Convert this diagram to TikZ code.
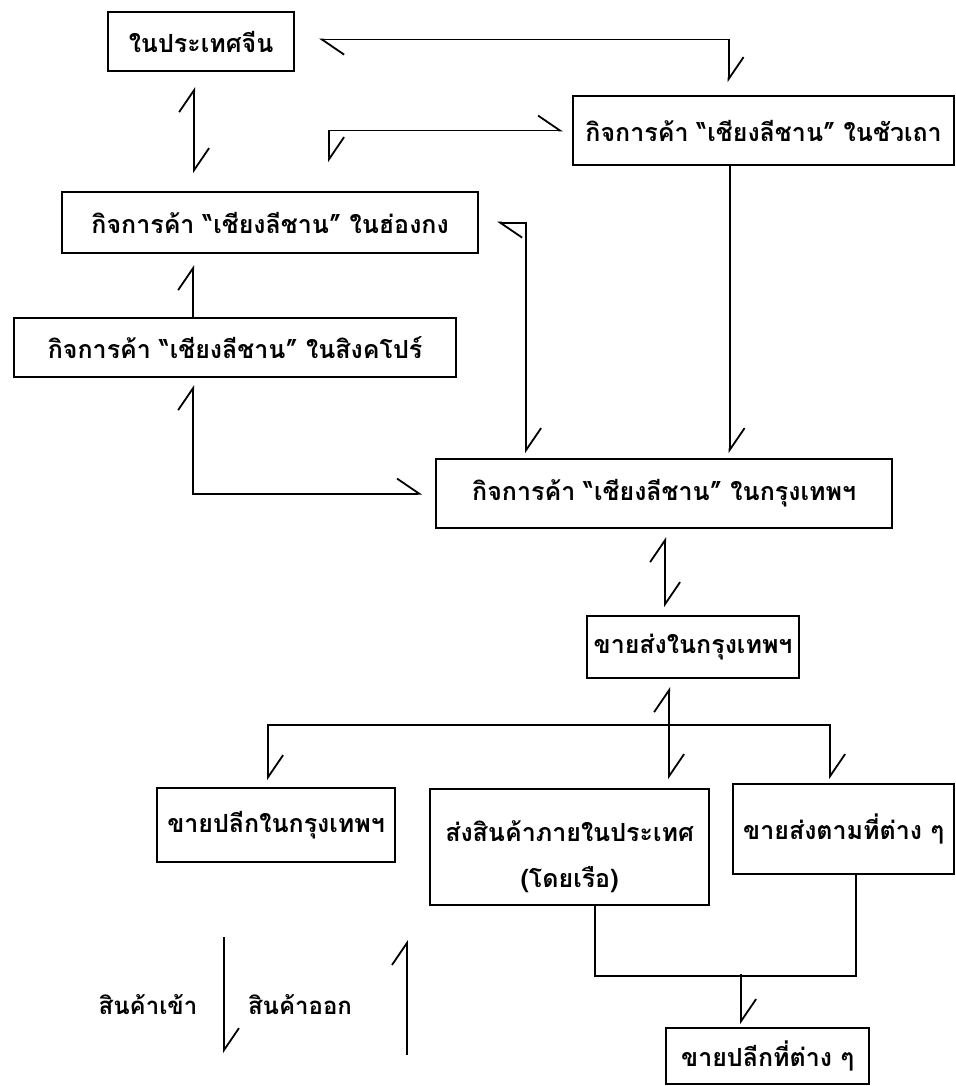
\documentclass[tikz,border=0pt]{standalone}
\usepackage{fontspec}
\newfontfamily\thaifont[Script=Thai]{Loma}
\usetikzlibrary{arrows.meta,calc}
\tikzset{
  box/.style={draw, line width=2.2pt, anchor=north west, inner sep=0pt, align=center, font=\thaifont\bfseries\fontsize{25}{46}\selectfont},
  lbl/.style={font=\thaifont\bfseries\fontsize{24}{28}\selectfont, inner sep=0pt},
  arr/.style={->, line width=1.8pt},
  arr2/.style={<->, line width=1.8pt},
  plain/.style={line width=1.8pt},
}

\begin{document}
\begin{tikzpicture}[x=1pt,y=-1pt,>={Straight Barb[left,length=22pt,width=30pt]}]
  \fill[white] (0,0) rectangle (955,1086);
  \useasboundingbox (0,0) rectangle (955,1086);
  % boxes
  \node[box,minimum width=186pt,minimum height=59pt]  (china)  at (107,11)   {ในประเทศจีน};
  \node[box,minimum width=381pt,minimum height=69pt]  (chua)   at (572,95)   {กิจการค้า “เชียงลีชาน” ในชัวเถา};
  \node[box,minimum width=416pt,minimum height=61pt]  (hk)     at (61,191)   {กิจการค้า “เชียงลีชาน” ในฮ่องกง};
  \node[box,minimum width=442pt,minimum height=59pt]  (sg)     at (13,317)   {กิจการค้า “เชียงลีชาน” ในสิงคโปร์};
  \node[box,minimum width=456pt,minimum height=69pt]  (bkk)    at (435,458)  {กิจการค้า “เชียงลีชาน” ในกรุงเทพฯ};
  \node[box,minimum width=212pt,minimum height=62pt]  (whole)  at (586,615)  {ขายส่งในกรุงเทพฯ};
  \node[box,minimum width=238pt,minimum height=74pt]  (retail) at (156,787)  {ขายปลีกในกรุงเทพฯ};
  \node[box,minimum width=279pt,minimum height=116pt] (ship)   at (429,788)  {ส่งสินค้าภายในประเทศ\rule{0pt}{40pt}\\(โดยเรือ)};
  \node[box,minimum width=221pt,minimum height=90pt]  (upc)    at (732,783)  {ขายส่งตามที่ต่าง ๆ};
  \node[box,minimum width=203pt,minimum height=56pt]  (local)  at (665,1027) {ขายปลีกที่ต่าง ๆ};
  \node[lbl] (goodsin)  at (148,1005) {สินค้าเข้า};
  \node[lbl] (goodsout) at (300,1005) {สินค้าออก};
  % flows between the branches
  \draw[arr2] ($(china.south)+(-7,15)$) -- ($(china.south |- hk.north)+(-7,-18)$);
  \draw[arr2] ($(china.east)+(24,-2)$) -| ($(chua.north)+(-35,-13)$);
  \draw[arr2] ($(hk.north)+(59,-29)$) |- ($(chua.west)+(-9,0)$);
  \draw[arr] ($(chua.south)+(-34,0)$) -- ($(chua.south |- bkk.north)+(-34,-5)$);
  \draw[arr2] ($(hk.east)+(18,0)$) -| ($(bkk.north)+(-138,-5)$);
  \draw[arr] ($(sg.north)+(-42,0)$) -- ($(sg.north |- hk.south)+(-42,11)$);
  \draw[arr2] ($(sg.south)+(-42,7)$) |- ($(bkk.west)+(-13,0)$);
  % Bangkok distribution
  \draw[arr2] ($(bkk.south)+(1,8)$) -- ($(bkk.south |- whole.north)+(1,-8)$);
  \draw[arr2] ($(whole.south)+(-24,8)$) -- ($(whole.south |- ship.north)+(-24,-9)$);
  \draw[arr] ($(whole.south)+(-24,46)$) -| ($(retail.north)+(-8,-7)$);
  \draw[arr] ($(whole.south)+(-24,46)$) -| ($(upc.north)+(-13.5,-4)$);
  \draw[plain] ($(ship.south)+(25.5,0)$) |- ($(upc.south)+(12.5,101)$) -- ($(upc.south)+(12.5,0)$);
  \coordinate (join) at ($(local.north)+(-26.5,-53)$);
  \draw[arr] (join) -- ($(local.north)+(-26.5,-3)$);
  % goods in / out
  \draw[arr] ($(goodsin.center)+(76,-68)$) -- ++(0,116);
  \draw[arr] ($(goodsout.center)+(107,50)$) -- ++(0,-115);
\end{tikzpicture}
\end{document}
